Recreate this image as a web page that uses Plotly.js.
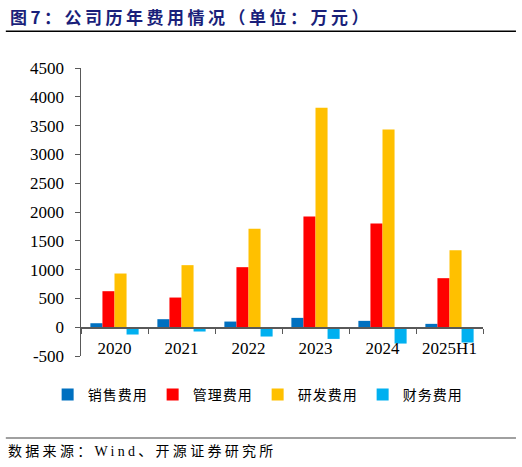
<!DOCTYPE html>
<html>
<head>
<meta charset="utf-8">
<script src="https://cdn.plot.ly/plotly-3.0.1.min.js"></script>
<style>
  html, body { margin: 0; padding: 0; background: #fff; }
  #chart { width: 522px; height: 467px; }
  .legendtext { letter-spacing: 1px; }
</style>
</head>
<body>
<div id="chart"></div>
<script>
// Categories and series (单位：万元)
const years = ['2020', '2021', '2022', '2023', '2024', '2025H1'];
const salesExp = [69, 139, 98, 162, 110, 58];
const adminExp = [625, 515, 1042, 1922, 1801, 851];
const rdExp = [932, 1077, 1708, 3809, 3433, 1337];
const finExp = [-127, -75, -162, -203, -284, -266];

const seriesNames = ['销售费用', '管理费用', '研发费用', '财务费用'];
const seriesColors = ['#0070C0', '#FF0000', '#FFC000', '#00B0F0'];
const seriesValues = [salesExp, adminExp, rdExp, finExp];

const yTicks = [-500, 0, 500, 1000, 1500, 2000, 2500, 3000, 3500, 4000, 4500];

const serif = '"Liberation Serif", "Times New Roman", "Noto Sans CJK SC", serif';
const cjk = '"Liberation Serif", "Noto Sans CJK SC", serif';

const data = seriesValues.map((vals, i) => ({
    type: 'bar',
    name: seriesNames[i],
    x: years,
    y: vals,
    marker: { color: seriesColors[i] },
    hoverinfo: 'x+y+name'
}));

const layout = {
    width: 522,
    height: 467,
    paper_bgcolor: '#ffffff',
    plot_bgcolor: '#ffffff',
    margin: { l: 81, r: 39, t: 68, b: 111 },
    barmode: 'group',
    bargap: 0.28,
    bargroupgap: 0,
    showlegend: true,
    font: { family: serif, color: '#000000', size: 16 },
    xaxis: {
        type: 'category',
        anchor: 'free',
        position: 0.1,
        showline: true,
        linecolor: '#595959',
        linewidth: 1.5,
        ticks: 'outside',
        tickson: 'boundaries',
        ticklen: 5,
        tickcolor: '#595959',
        showgrid: false,
        zeroline: false,
        ticklabelstandoff: 5,
        tickfont: { family: serif, size: 17, color: '#000' }
    },
    yaxis: {
        range: [-500, 4500],
        tickvals: yTicks,
        ticktext: yTicks.map(String),
        showline: true,
        linecolor: '#595959',
        linewidth: 1.5,
        ticks: 'outside',
        ticklen: 5,
        tickcolor: '#595959',
        showgrid: false,
        zeroline: false,
        ticklabelstandoff: 7,
        tickfont: { family: serif, size: 17, color: '#000' }
    },
    legend: {
        orientation: 'h',
        x: -0.083,
        xanchor: 'left',
        y: -0.135,
        yanchor: 'middle',
        font: { family: cjk, size: 14, color: '#000' },
        itemwidth: 30,
        tracegroupgap: 0
    },
    shapes: [
        { type: 'line', xref: 'paper', yref: 'paper', x0: -0.187, x1: 1.082, y0: 1.128, y1: 1.128,
          line: { color: '#000000', width: 1.5 } },
        { type: 'line', xref: 'paper', yref: 'paper', x0: -0.187, x1: 1.082, y0: -0.285, y1: -0.285,
          line: { color: '#808080', width: 1.5 } }
    ],
    annotations: [
        { text: '<span style="letter-spacing:3.5px"><b>图7：公司历年费用情况（单位：万元）</b></span>',
          xref: 'paper', yref: 'paper',
          x: -0.182, y: 1.18, xanchor: 'left', yanchor: 'middle', showarrow: false,
          font: { family: '"Noto Sans CJK SC", sans-serif', size: 17, color: '#1a1f7a' } },
        { text: '<span style="letter-spacing:3.3px">数据来源：Wind、开源证券研究所</span>',
          xref: 'paper', yref: 'paper',
          x: -0.187, y: -0.333, xanchor: 'left', yanchor: 'middle', showarrow: false,
          font: { family: cjk, size: 14, color: '#000' } }
    ]
};

Plotly.newPlot('chart', data, layout, { displayModeBar: false, staticPlot: true });
</script>
</body>
</html>
